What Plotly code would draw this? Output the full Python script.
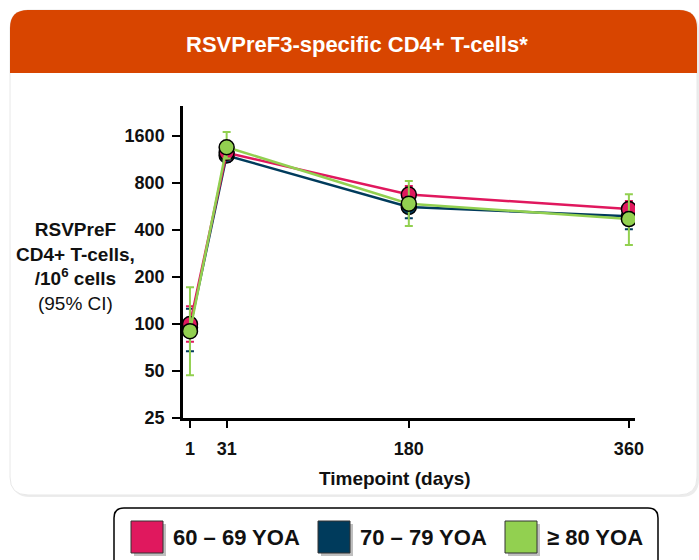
import numpy as np
import plotly.graph_objects as go

# ---- data ----
days = [1, 31, 180, 360]
groups = ["60 – 69 YOA", "70 – 79 YOA", "≥ 80 YOA"]
colors = ["#E0185E", "#003B5C", "#92D050"]

cd4_60_69 = [100, 1250, 675, 545]
cd4_70_79 = [95, 1200, 562, 490]
cd4_80 = [90, 1356, 590, 470]

upper_60_69 = [130, 1400, 765, 614]
lower_60_69 = [77, 1130, 590, 480]
upper_70_79 = [125, 1380, 650, 590]
lower_70_79 = [67, 1090, 475, 405]
upper_80 = [172, 1696, 824, 678]
lower_80 = [47, 1150, 424, 320]

y_ticks = [25, 50, 100, 200, 400, 800, 1600]
x_ticks = [1, 31, 180, 360]

values = [cd4_60_69, cd4_70_79, cd4_80]
uppers = [upper_60_69, upper_70_79, upper_80]
lowers = [lower_60_69, lower_70_79, lower_80]

FONT = "Liberation Sans, Arial, sans-serif"
W, H = 699, 560
L, R, T, B = 183, 635, 106, 418  # plot area in pixels


def px(x):
    return (x - L) / (R - L)


def py(y):
    return (B - y) / (B - T)


def round_rect(x0, y0, x1, y1, r, bottom_round=True):
    # pixel rect -> svg path in paper coords, rounded corners
    pts = []
    pts.append(("M", px(x0 + r), py(y0)))
    pts.append(("L", px(x1 - r), py(y0)))
    pts.append(("Q", px(x1), py(y0), px(x1), py(y0 + r)))
    if bottom_round:
        pts.append(("L", px(x1), py(y1 - r)))
        pts.append(("Q", px(x1), py(y1), px(x1 - r), py(y1)))
        pts.append(("L", px(x0 + r), py(y1)))
        pts.append(("Q", px(x0), py(y1), px(x0), py(y1 - r)))
    else:
        pts.append(("L", px(x1), py(y1)))
        pts.append(("L", px(x0), py(y1)))
    pts.append(("L", px(x0), py(y0 + r)))
    pts.append(("Q", px(x0), py(y0), px(x0 + r), py(y0)))
    s = ""
    for p in pts:
        s += p[0] + " " + " ".join("%.5f" % v for v in p[1:]) + " "
    return s + "Z"


def note(text, x, y, size, color="#111", xanchor="center"):
    return dict(text=text, x=px(x), y=py(y), xref="paper", yref="paper",
                xanchor=xanchor, yanchor="middle", showarrow=False, align="center",
                font=dict(family=FONT, size=size, color=color))


fig = go.Figure()

# navy first so the pink markers sit on top of it, green last
for i in [1, 0, 2]:
    v = np.array(values[i])
    col = colors[i]
    fig.add_trace(go.Scatter(
        x=days, y=v, name=groups[i], mode="lines+markers",
        line=dict(color=col, width=2.5),
        marker=dict(size=15, color=col, line=dict(color="black", width=1.5)),
        error_y=dict(type="data", symmetric=False,
                     array=np.array(uppers[i]) - v, arrayminus=v - np.array(lowers[i]),
                     color=col, thickness=2, width=4),
        showlegend=False,
    ))

shapes = [
    # card + header
    dict(type="path", path=round_rect(12, 12, 699, 497, 18), xref="paper", yref="paper",
         fillcolor="#ececec", line=dict(width=0), layer="below"),
    dict(type="path", path=round_rect(10, 10, 697, 495, 18), xref="paper", yref="paper",
         fillcolor="white", line=dict(color="#e8e8e8", width=1), layer="below"),
    dict(type="path", path=round_rect(10, 10, 697, 73, 18, bottom_round=False),
         xref="paper", yref="paper", fillcolor="#D84500", line=dict(width=0), layer="below"),
    # legend box
    dict(type="path", path=round_rect(114, 508, 658, 575, 10), xref="paper", yref="paper",
         fillcolor="white", line=dict(color="black", width=1.5), layer="below"),
]

annotations = [
    note("<b>RSVPreF3-specific CD4+ T-cells*</b>", 357, 44, 22, color="white"),
    note("<b>RSVPreF<br>CD4+ T-cells,<br>/10<sup>6</sup> cells</b><br>(95% CI)", 75, 266, 19),
    note("<b>Timepoint (days)</b>", 395, 478, 19),
]

# manual legend: squares with a soft shadow + labels
sq_x = [131, 318, 505]
for name, col, x0 in zip(groups, colors, sq_x):
    shapes.append(dict(type="rect", xref="paper", yref="paper",
                       x0=px(x0 + 3), x1=px(x0 + 35), y0=py(524), y1=py(556),
                       fillcolor="rgba(0,0,0,0.25)", line=dict(width=0)))
    shapes.append(dict(type="rect", xref="paper", yref="paper",
                       x0=px(x0), x1=px(x0 + 32), y0=py(521), y1=py(553),
                       fillcolor=col, line=dict(color="#333", width=1)))
    annotations.append(note("<b>%s</b>" % name, x0 + 40, 537, 22, xanchor="left"))

fig.update_layout(
    width=W, height=H,
    margin=dict(l=L, r=W - R, t=T, b=H - B),
    paper_bgcolor="white", plot_bgcolor="rgba(0,0,0,0)",
    font=dict(family=FONT, size=18, color="#111"),
    shapes=shapes, annotations=annotations,
)

fig.update_xaxes(
    range=[-4.7, 365], tickvals=x_ticks, ticktext=["<b>%d</b>" % t for t in x_ticks],
    showgrid=False, zeroline=False, showline=True, linecolor="black", linewidth=2.5,
    ticks="outside", ticklen=7, tickwidth=2, tickcolor="black",
    tickfont=dict(family=FONT, size=18, color="#111"), ticklabelstandoff=6,
)
fig.update_yaxes(
    type="log", range=[np.log10(25), np.log10(2490)], tickvals=y_ticks,
    ticktext=["<b>%d</b>" % t for t in y_ticks],
    showgrid=False, zeroline=False, showline=True, linecolor="black", linewidth=2.5,
    ticks="outside", ticklen=8, tickwidth=2, tickcolor="black",
    tickfont=dict(family=FONT, size=18, color="#111"), ticklabelstandoff=4,
)

# the page's default body margin would shift the whole chart by 8px
fig.write_html("out.html", config={"displayModeBar": False},
               post_script="document.body.style.margin='0';")
